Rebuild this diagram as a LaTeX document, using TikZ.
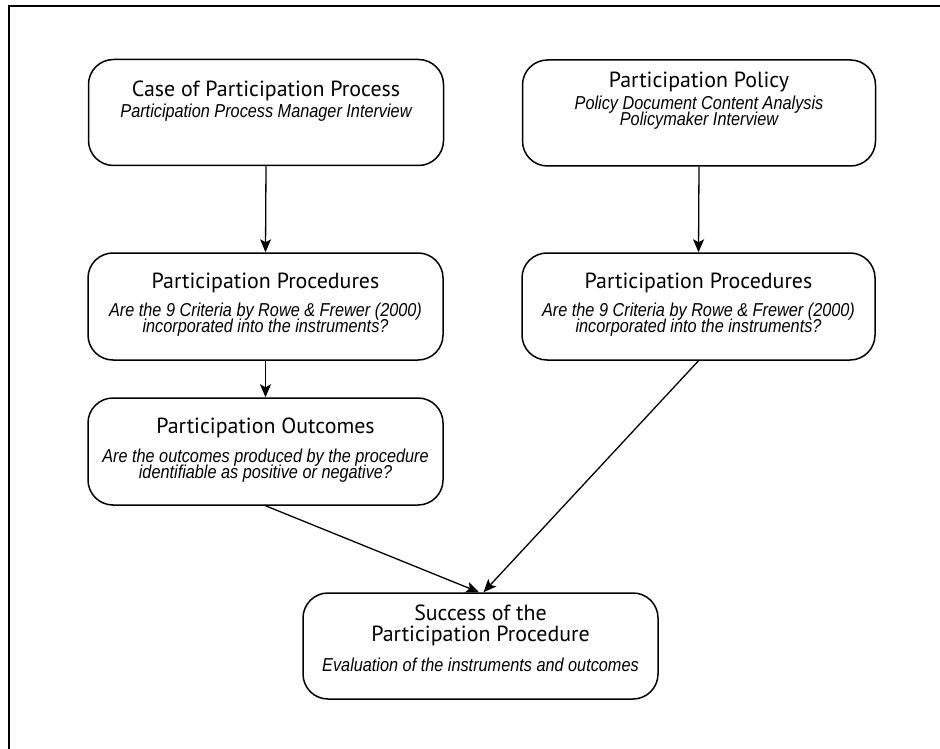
\documentclass[tikz,border=0pt]{standalone}
\usepackage{fontspec}
\setmainfont{PT Sans}
\newfontfamily\subfont[FakeStretch=0.87]{Liberation Sans}
\usetikzlibrary{arrows.meta,calc}
\tikzset{
  box/.style={draw=black,line width=1.5pt,rounded corners=25pt,minimum width=355pt,minimum height=106pt,inner sep=0pt},
  ttl/.style={anchor=base,inner sep=0pt,font=\fontsize{21.9}{21.9}\selectfont},
  sub/.style={anchor=base,inner sep=0pt,font=\subfont\itshape\fontsize{18.7}{15.7}\selectfont},
  arr/.style={line width=1.3pt,-{Stealth[length=13pt,width=11pt,inset=3pt]}}
}
\begin{document}
\begin{tikzpicture}[x=1pt,y=-1pt]
\useasboundingbox (0,0) rectangle (940,749);
\draw[line width=2.5pt] (9,749) -- (9,6) -- (940,6);
% boxes
\node[box] (A) at (266,112.5) {};
\node[box,minimum width=353pt] (B) at (699,113) {};
\node[box,minimum height=107pt] (C) at (265.5,306.5) {};
\node[box,minimum height=107pt] (D) at (265.5,451.5) {};
\node[box,minimum width=353pt,minimum height=107pt] (E) at (698.5,306.5) {};
\node[box] (F) at (480.5,646) {};
% texts
\node[ttl] (At) at (266,97) {Case of Participation Process};
\node[sub] (As) at (266,118) {Participation Process Manager Interview};
\node[ttl] (Bt) at (699,88) {Participation Policy};
\node[sub] (Bs1) at (699,110) {Policy Document Content Analysis};
\node[sub] (Bs2) at (699,126) {Policymaker Interview};
\node[ttl] (Ct) at (265.5,288) {Participation Procedures};
\node[sub] (Cs1) at (265.5,316.5) {Are the 9 Criteria by Rowe \& Frewer (2000)};
\node[sub] (Cs2) at (265.5,332) {incorporated into the instruments?};
\node[ttl] (Dt) at (265.5,433) {Participation Outcomes};
\node[sub] (Ds1) at (265.5,462.5) {Are the outcomes produced by the procedure};
\node[sub] (Ds2) at (265.5,478) {identifiable as positive or negative?};
\node[ttl] (Et) at (698.5,288) {Participation Procedures};
\node[sub] (Es1) at (698.5,316.5) {Are the 9 Criteria by Rowe \& Frewer (2000)};
\node[sub] (Es2) at (698.5,332) {incorporated into the instruments?};
\node[ttl] (Ft1) at (480.5,620) {Success of the};
\node[ttl] (Ft2) at (480.5,641.7) {Participation Procedure};
\node[sub] (Fs) at (480.5,671.5) {Evaluation of the instruments and outcomes};
% connectors
\coordinate (F1) at ($(F.north)+(-1.5,0)$);
\coordinate (F2) at ($(F.north)+(3,0)$);
\draw[arr] (A.south) -- (C.north);
\draw[arr] (B.south) -- (E.north);
\draw[arr] (C.south) -- (D.north);
\draw[arr] (D.south) -- (F1);
\draw[arr] (E.south) -- (F2);
\end{tikzpicture}
\end{document}
